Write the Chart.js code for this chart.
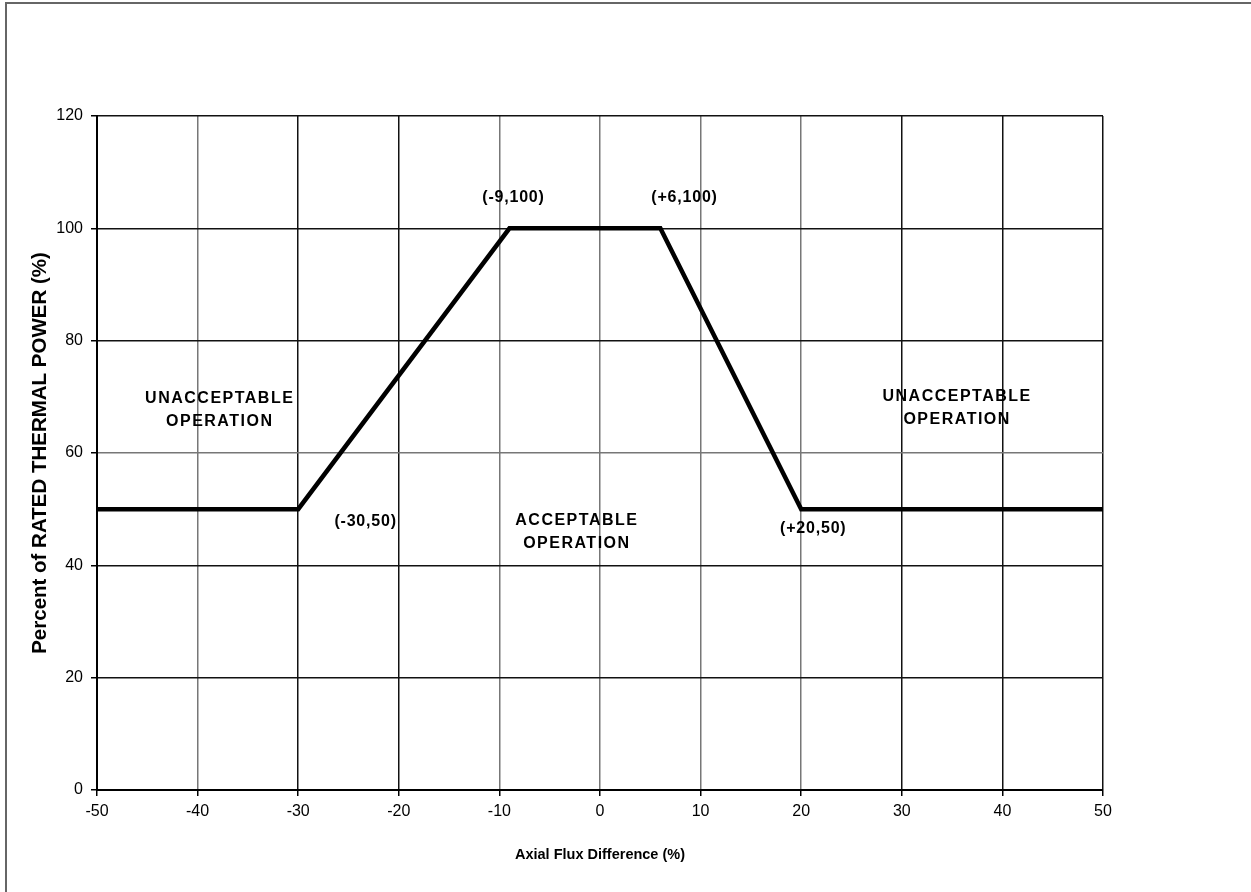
<!DOCTYPE html>
<html>
<head>
<meta charset="utf-8">
<script src="https://cdn.jsdelivr.net/npm/chart.js@4"></script>
<style>
  html, body { margin: 0; padding: 0; background: #fff; }
  #wrap { position: relative; width: 1251px; height: 892px; }
  #frame { position: absolute; left: 5px; top: 2px; right: -4px; bottom: -4px; border-left: 2px solid #666; border-top: 2px solid #666; pointer-events: none; }
</style>
</head>
<body>
<div id="wrap">
  <canvas id="afd-chart" width="1251" height="892"></canvas>
  <div id="frame"></div>
</div>
<script>
// limit line points (Axial Flux Difference %, Rated Thermal Power %)
const fluxDiff = [-50, -30, -9, 6, 20, 50];
const powerPct = [50, 50, 100, 100, 50, 50];

// tick values
const xTicks = [-50, -40, -30, -20, -10, 0, 10, 20, 30, 40, 50];
const yTicks = [0, 20, 40, 60, 80, 100, 120];

// grid lines that show up darker in the original
const darkX = [-50, -30, -20, 30, 40, 50];
const darkY = [0, 20, 40, 80, 100, 120];

// text labels placed in data coordinates
const labelText = ['(-9,100)', '(+6,100)', '(-30,50)', '(+20,50)'];
const labelX = [-8.6, 8.4, -23.3, 21.2];
const labelY = [105.4, 105.4, 47.7, 46.6];

const regionText = [['UNACCEPTABLE', 'OPERATION'], ['ACCEPTABLE', 'OPERATION'], ['UNACCEPTABLE', 'OPERATION']];
const regionX = [-37.8, -2.3, 35.5];
const regionY = [67.6, 46.0, 68.0];

const FONT = "'Liberation Sans', Arial, sans-serif";

const annotations = {
  id: 'annotations',
  afterDatasetsDraw(chart) {
    const { ctx, scales: { x, y } } = chart;
    ctx.save();
    ctx.fillStyle = '#000';
    ctx.textAlign = 'center';
    ctx.textBaseline = 'middle';

    ctx.font = 'bold 16px ' + FONT;
    ctx.letterSpacing = '0.8px';
    labelText.forEach((t, i) => {
      ctx.fillText(t, x.getPixelForValue(labelX[i]), y.getPixelForValue(labelY[i]));
    });

    ctx.font = 'bold 16px ' + FONT;
    ctx.letterSpacing = '1.5px';
    regionText.forEach((lines, i) => {
      const cx = x.getPixelForValue(regionX[i]);
      const cy = y.getPixelForValue(regionY[i]);
      ctx.fillText(lines[0], cx, cy - 11.5);
      ctx.fillText(lines[1], cx, cy + 11.5);
    });
    ctx.restore();
  }
};

new Chart(document.getElementById('afd-chart'), {
  type: 'scatter',
  data: {
    datasets: [{
      data: fluxDiff.map((v, i) => ({ x: v, y: powerPct[i] })),
      showLine: true,
      borderColor: '#000',
      borderWidth: 4.5,
      pointRadius: 0,
      tension: 0,
      borderJoinStyle: 'miter',
    }],
  },
  options: {
    responsive: false,
    animation: false,
    layout: { padding: { top: 116, right: 148, left: 0, bottom: 0 } },
    plugins: { legend: { display: false }, tooltip: { enabled: false } },
    scales: {
      x: {
        type: 'linear',
        min: -50,
        max: 50,
        afterBuildTicks: (s) => { s.ticks = xTicks.map(v => ({ value: v })); },
        afterFit: (s) => { s.height = 102; },
        border: { display: true, color: '#000', width: 2 },
        grid: {
          color: (c) => darkX.includes(c.tick.value) ? '#111' : '#777',
          lineWidth: 1.5,
          tickLength: 6,
          tickColor: '#000',
        },
        ticks: {
          color: '#000',
          padding: 6,
          font: { family: FONT, size: 16 },
        },
        title: {
          display: true,
          text: 'Axial Flux Difference (%)',
          color: '#000',
          font: { family: FONT, size: 14.5, weight: 'bold' },
          padding: 28,
        },
      },
      y: {
        type: 'linear',
        min: 0,
        max: 120,
        afterBuildTicks: (s) => { s.ticks = yTicks.map(v => ({ value: v })); },
        afterFit: (s) => { s.width = 97; },
        border: { display: true, color: '#000', width: 2 },
        grid: {
          color: (c) => darkY.includes(c.tick.value) ? '#111' : '#777',
          lineWidth: 1.5,
          tickLength: 6,
          tickColor: '#000',
        },
        ticks: {
          color: '#000',
          padding: 8,
          font: { family: FONT, size: 16 },
        },
        title: {
          display: true,
          text: 'Percent of RATED THERMAL POWER (%)',
          color: '#000',
          font: { family: FONT, size: 20.5, weight: 'bold' },
          padding: 28,
        },
      },
    },
  },
  plugins: [annotations],
});
</script>
</body>
</html>
